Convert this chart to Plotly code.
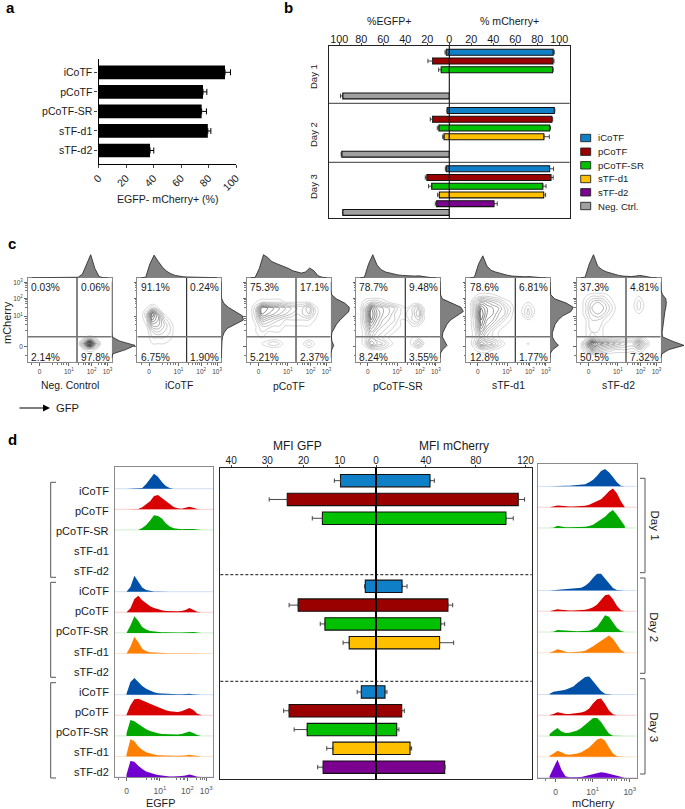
import plotly.graph_objects as go

W, H = 685, 809
FONT = "Liberation Sans"

# ---------- panel a ----------
A_CATS = ["iCoTF", "pCoTF", "pCoTF-SR", "sTF-d1", "sTF-d2"]
A_VALS = [92, 76, 75, 79.5, 37.5]
A_ERRS = [4, 2.8, 3.5, 2.2, 2.7]
A_TICKS = [0, 20, 40, 60, 80, 100]

# ---------- panel b (one value per day; None = not measured) ----------
NAMES = ["iCoTF", "pCoTF", "pCoTF-SR", "sTF-d1", "sTF-d2", "Neg. Ctrl."]
COLORS = ["#0F80C8", "#9B0000", "#00C000", "#FFC000", "#7B0090", "#A0A0A0"]
B_MCH = [[94.5, 95.5, 91.2], [94.2, 93.3, 92.4], [93.9, 91.2, 85.0],
         [None, 86.0, 85.8], [None, None, 40.6], [None, None, None]]
B_MCH_ERR = [[1, 0.5, 3.6], [1, 0.7, 2.1], [0.6, 0.8, 3.0],
             [None, 5.0, 1.8], [None, None, 3.0], [None, None, None]]
B_GFP = [[2.7, 1.8, 2.7], [15.2, 15.2, 20.3], [7.3, 9.4, 16.0],
         [None, 4.8, 9.0], [None, None, 11.5], [96.7, 97.6, 96.7]]
B_GFP_ERR = [[1.2, 0.3, 0.9], [4.2, 2.1, 1.5], [2.4, 1.5, 2.8],
             [None, 1.2, 1.6], [None, None, 1.2], [2.1, 0.6, 0.3]]
B_TICKS = [0, 20, 40, 60, 80, 100]

# ---------- panel d centre (five constructs per day) ----------
D_GFP = [[9.8, 2.95, 4.05], [24.5, 21.5, 24.0], [14.8, 14.1, 19.0],
         [None, 7.4, 11.9], [None, None, 14.6]]
D_GFP_ERR = [[1.7, 0.2, 1.15], [5.0, 2.5, 1.5], [2.8, 1.3, 3.6],
             [None, 1.7, 1.7], [None, None, 1.5]]
D_MCH = [[43.3, 20.9, 7.2], [114.1, 57.7, 20.6], [104.2, 51.9, 16.6],
         [None, 51.0, 27.3], [None, None, 55.1]]
D_MCH_ERR = [[3.5, 4.0, 1.6], [5.1, 3.8, 2.1], [5.9, 3.2, 1.8],
             [None, 11.3, 1.3], [None, None, 0.3]]
D_GFP_TICKS = [40, 30, 20, 10, 0]
D_MCH_TICKS = [40, 80, 120]

# ---------- panel c ----------
C_LABELS = ["Neg. Control", "iCoTF", "pCoTF", "pCoTF-SR", "sTF-d1", "sTF-d2"]
C_PCT = [["0.03%", "0.06%", "2.14%", "97.8%"],
         ["91.1%", "0.24%", "6.75%", "1.90%"],
         ["75.3%", "17.1%", "5.21%", "2.37%"],
         ["78.7%", "9.48%", "8.24%", "3.55%"],
         ["78.6%", "6.81%", "12.8%", "1.77%"],
         ["37.3%", "4.81%", "50.5%", "7.32%"]]
C_XGRID = [.04, .11, .18, .25, .32, .39, .46, .53, .60, .67, .74, .81, .88, .95]
C_YGRID = [.85, .78, .71, .64, .57, .50, .43, .36, .29, .22, .15, .08]
Z_NEG = [[0] * 14, [0] * 14, [0] * 14, [0] * 14, [0] * 14, [0] * 14, [0] * 14, [0] * 14,
         [0, 0, 0, 0, 0, 0, 0, 0, 0, 1, 1.5, 1, 0, 0],
         [0, 0, 0, 0, 0, 0, 0, 0, 0, 7, 15, 6, 0, 0],
         [0, 0, 0, 0, 0, 0, 0, 0, 0, 1, 1.5, 1, 0, 0],
         [0] * 14]
Z_ICO = [[0] * 14, [0] * 14, [0] * 14,
         [0, 1, 3, 1, 0, 0, 0, 0, 0, 0, 0, 0, 0, 0],
         [0, 3, 11, 6, 1, 0, 0, 0, 0, 0, 0, 0, 0, 0],
         [0, 2, 9, 7, 3, 1, 0, 0, 0, 0, 0, 0, 0, 0],
         [0, 1, 6, 6, 4, 2, 0, 0, 0, 0, 0, 0, 0, 0],
         [0, 0, 3, 4, 3, 2, 0, 0, 0, 0, 0, 0, 0, 0],
         [0, 0, 2, 2, 2, 1.5, 0, 0, 0, 0, 0, 0, 0, 0],
         [0, 0, 1, 1, 1, 0, 0, 0, 0, 0, 0, 0, 0, 0],
         [0] * 14, [0] * 14]
Z_PCO = [[0] * 14, [0] * 14,
         [0, 1, 2, 2, 2, 2, 1, 1, 1, 1, 1, 0, 0, 0],
         [0, 3, 10, 9, 8, 7, 6, 5, 4, 4, 6, 2, 0, 0],
         [0, 3, 9, 8, 7, 6, 5, 4, 3, 4, 5, 2, 0, 0],
         [0, 2, 6, 5, 4, 3, 2, 2, 2, 2, 2, 1, 0, 0],
         [0, 1, 3, 3, 2, 2, 1, 1, 1, 1, 1, 0, 0, 0],
         [0, 1, 2, 1, 1, 1, 0, 0, 0, 0, 0, 0, 0, 0],
         [0, 0, 1, 0, 0, 0, 0, 0, 0, 0, 0, 0, 0, 0],
         [0, 0, 1, 2, 3, 2, 0, 0, 0, 0.9, 3, 0.9, 0, 0],
         [0] * 14, [0] * 14]
Z_SR = [[0] * 14, [0] * 14,
        [0, 2, 3, 3, 2, 1, 0, 0, 0, 0, 0, 0, 0, 0],
        [0, 4, 10, 7, 6, 5, 4, 2, 1, 3, 5, 1, 0, 0],
        [0, 4, 11, 8, 6, 5, 3, 2, 2, 3, 6, 1, 0, 0],
        [0, 4, 10, 7, 5, 4, 3, 1, 1, 3, 4, 1, 0, 0],
        [0, 3, 8, 6, 4, 3, 2, 1, 0, 1, 1, 0, 0, 0],
        [0, 2, 6, 4, 3, 2, 1, 0, 0, 0, 0, 0, 0, 0],
        [0, 2, 5, 3, 2, 1, 0, 0, 0, 1, 1, 0, 0, 0],
        [0, 2, 7, 5, 4, 2, 0.5, 0, 0, 1.5, 5, 1, 0, 0],
        [0, 0, 1, 1, 1, 0, 0, 0, 0, 0, 0, 0, 0, 0],
        [0] * 14]
Z_D1 = [[0] * 14,
        [0, 1, 2, 2, 1.5, 1, 0, 0, 0, 0, 0, 0, 0, 0],
        [0, 4, 7, 6, 5, 4, 2, 1, 0, 0, 1, 1, 0, 0],
        [0, 4, 10, 8, 7, 6, 4, 2, 0, 1, 3, 1, 0, 0],
        [0, 4, 11, 8, 7, 5, 4, 1.5, 0, 1, 3.5, 1, 0, 0],
        [0, 3, 10, 7, 6, 4, 2, 1, 0, 0, 0.9, 0.5, 0, 0],
        [0, 3, 9, 6, 4, 2, 1, 0, 0, 0, 0, 0, 0, 0],
        [0, 2, 7, 4, 2, 1, 0, 0, 0, 0, 0, 0, 0, 0],
        [0, 2, 5, 3, 2, 1, 0, 0, 0, 0, 0, 0, 0, 0],
        [0, 3, 8, 6, 5, 3, 1, 0, 0, 0, 1.2, 0, 0, 0],
        [0, 1, 2, 2, 1, 0.5, 0, 0, 0, 0, 0, 0, 0, 0],
        [0] * 14]
Z_D2 = [[0] * 14,
        [0, 1, 2, 2, 2, 1, 0, 0, 0, 0, 1, 0, 0, 0],
        [0, 2, 4, 5, 4, 2, 0.5, 0, 0, 0.5, 2.5, 0.5, 0, 0],
        [0, 2, 5, 6, 5, 3, 1, 0, 0, 0.5, 2.5, 0.5, 0, 0],
        [0, 2, 4, 5, 4, 2, 0.5, 0, 0, 0, 0.9, 0, 0, 0],
        [0, 1, 3, 3, 2, 1, 0, 0, 0, 0, 0, 0, 0, 0],
        [0, 1, 3, 3, 1, 0, 0, 0, 0, 0, 0, 0, 0, 0],
        [0, 1, 2, 2, 0.9, 0, 0, 0, 0, 0, 0, 0, 0, 0],
        [0, 1, 3, 2, 1, 1, 0.5, 0.5, 0.5, 0.5, 1, 0.9, 0, 0],
        [0, 5, 12, 9, 8, 7, 6, 5, 4, 4, 8, 4, 0, 0],
        [0, 3, 7, 5, 4, 3, 2, 2, 2, 1.5, 3, 1, 0, 0],
        [0] * 14]
C_Z = [Z_NEG, Z_ICO, Z_PCO, Z_SR, Z_D1, Z_D2]

# marginal histograms of panel c
C_BINS = [.05, .1, .15, .2, .25, .3, .35, .4, .45, .5, .55, .6, .65, .7, .75, .8, .85, .9, .95]
TOP_NEG = [0, 0, 0, 0, 0, 0, 0, 0, 0, 0, 0, .02, .15, .55, 1, .4, .05, 0, 0]
TOP_ICO = [0, .02, .6, .98, .7, .45, .28, .17, .1, .06, .04, .03, .03, .03, .02, .01, 0, 0, 0]
TOP_PCO = [0, .01, .4, 1, .88, .7, .62, .55, .45, .4, .3, .25, .2, .25, .42, .3, .08, .02, 0]
TOP_SR = [0, .02, .6, 1, .55, .35, .25, .2, .15, .12, .1, .08, .08, .07, .08, .05, .01, 0, 0]
TOP_D1 = [0, .02, .6, .95, .5, .32, .25, .2, .13, .1, .07, .05, .04, .04, .05, .03, 0, 0, 0]
TOP_D2 = [0, .02, .6, 1, .5, .35, .26, .2, .14, .1, .07, .05, .05, .07, .1, .07, .02, 0, 0]
C_TOP = [TOP_NEG, TOP_ICO, TOP_PCO, TOP_SR, TOP_D1, TOP_D2]
RIGHT_NEG = [0, .05, .6, 1, .35, .02, 0, 0, 0, 0, 0, 0, 0, 0, 0, 0, 0, 0, 0]
RIGHT_ICO = [0, 0, .01, .02, .03, .05, .12, .25, .6, .95, .9, .6, .3, .1, .02, 0, 0, 0, 0]
RIGHT_PCO = [0, 0, .05, .13, .05, .03, .05, .15, .25, .4, .58, .78, .8, .6, .24, .04, 0, 0, 0]
RIGHT_SR = [0, 0, .12, .3, .2, .1, .12, .2, .3, .45, .7, 1, .9, .5, .1, .02, 0, 0, 0]
RIGHT_D1 = [0, 0, .12, .36, .2, .1, .1, .15, .22, .35, .55, .9, 1, .7, .2, .03, 0, 0, 0]
RIGHT_D2 = [0, .05, .35, 1, .5, .08, .06, .08, .1, .12, .14, .18, .22, .24, .22, .08, .01, 0, 0]
C_RIGHT = [RIGHT_NEG, RIGHT_ICO, RIGHT_PCO, RIGHT_SR, RIGHT_D1, RIGHT_D2]

# ---------- panel d ridgelines (counts on a shared bin grid) ----------
R_BINS = [.12, .16, .20, .24, .28, .32, .36, .40, .44, .48, .52, .56, .60, .64, .68, .72, .76, .80, .84, .88]
RIDGE_COLORS = ["#0050A8", "#D80000", "#00A800", "#FF8000", "#7000D0"]
RIDGE_TINTS = ["#CFE0F5", "#FAD0D0", "#CDF0CD", "#FFE3CC", "#E3D0F8"]
GFP_1_0 = [0, 0, 0, 0, 2, 14, 30, 45, 36, 20, 8, 2, 0, 0, 0, 0, 1, 0, 0, 0]
GFP_1_1 = [0, 0, 0, 1, 6, 14, 24, 40, 43, 34, 24, 15, 7, 3, 2, 5, 8, 5, 1, 0]
GFP_1_2 = [0, 0, 0, 0, 6, 15, 28, 44, 42, 34, 20, 10, 5, 3, 2, 3, 4, 3, 1, 0]
GFP_2_0 = [0, 14, 48, 30, 13, 5, 2, 1, 1, 0, 0, 0, 0, 0, 0, 0, 1, 0, 0, 0]
GFP_2_1 = [0, 12, 40, 50, 36, 26, 18, 13, 9, 6, 4, 3, 3, 3, 4, 7, 13, 8, 2, 0]
GFP_2_2 = [0, 22, 50, 36, 18, 10, 6, 4, 3, 2, 2, 1, 1, 1, 1, 2, 4, 3, 1, 0]
GFP_2_3 = [0, 20, 50, 34, 14, 7, 4, 3, 2, 1, 1, 1, 1, 1, 1, 2, 3, 2, 1, 0]
GFP_3_0 = [3, 38, 50, 38, 26, 18, 12, 7, 4, 3, 2, 1, 1, 1, 1, 2, 3, 1, 0, 0]
GFP_3_1 = [2, 30, 48, 50, 44, 40, 35, 30, 24, 19, 15, 12, 10, 10, 12, 17, 22, 16, 5, 1]
GFP_3_2 = [8, 48, 44, 36, 27, 20, 15, 11, 8, 6, 5, 4, 4, 4, 6, 10, 13, 9, 3, 0]
GFP_3_3 = [6, 52, 46, 30, 20, 13, 9, 6, 4, 3, 2, 2, 2, 2, 2, 3, 5, 3, 1, 0]
GFP_3_4 = [8, 48, 46, 34, 24, 17, 12, 9, 6, 4, 3, 2, 2, 2, 3, 5, 8, 5, 1, 0]
MCH_1_0 = [0, 1, 2, 2, 2, 2, 3, 3, 4, 6, 12, 20, 32, 46, 52, 42, 28, 12, 2, 0]
MCH_1_1 = [0, 2, 5, 4, 2, 2, 2, 2, 3, 4, 7, 12, 18, 24, 35, 48, 56, 42, 18, 3]
MCH_1_2 = [0, 1, 7, 4, 2, 2, 2, 2, 3, 4, 6, 10, 18, 26, 34, 46, 54, 40, 24, 6]
MCH_2_0 = [0, 1, 2, 2, 3, 3, 4, 5, 8, 14, 24, 38, 50, 50, 36, 20, 7, 1, 0, 0]
MCH_2_1 = [0, 2, 6, 4, 2, 2, 2, 2, 3, 4, 7, 12, 20, 34, 48, 50, 36, 16, 3, 0]
MCH_2_2 = [0, 1, 6, 5, 3, 2, 2, 2, 3, 3, 4, 8, 16, 32, 50, 46, 30, 12, 3, 0]
MCH_2_3 = [1, 5, 11, 8, 3, 2, 2, 3, 4, 6, 12, 20, 28, 36, 46, 52, 42, 24, 8, 1]
MCH_3_0 = [2, 8, 11, 12, 14, 18, 24, 34, 44, 52, 54, 40, 26, 10, 2, 0, 0, 0, 0, 0]
MCH_3_1 = [1, 4, 9, 7, 4, 4, 5, 6, 8, 12, 20, 36, 48, 50, 34, 14, 3, 0, 0, 0]
MCH_3_2 = [6, 16, 24, 14, 9, 10, 13, 17, 24, 34, 46, 54, 54, 42, 24, 8, 1, 0, 0, 0]
MCH_3_3 = [3, 10, 18, 14, 8, 6, 7, 10, 14, 20, 28, 40, 52, 56, 48, 28, 10, 2, 0, 0]
MCH_3_4 = [4, 30, 54, 24, 4, 1, 1, 1, 2, 5, 8, 11, 14, 16, 15, 12, 8, 4, 2, 0]
# (row among the 15 lanes, colour index, counts)
GFP_RIDGES = [(0, 0, GFP_1_0), (1, 1, GFP_1_1), (2, 2, GFP_1_2),
              (5, 0, GFP_2_0), (6, 1, GFP_2_1), (7, 2, GFP_2_2), (8, 3, GFP_2_3),
              (10, 0, GFP_3_0), (11, 1, GFP_3_1), (12, 2, GFP_3_2), (13, 3, GFP_3_3), (14, 4, GFP_3_4)]
MCH_RIDGES = [(0, 0, MCH_1_0), (1, 1, MCH_1_1), (2, 2, MCH_1_2),
              (5, 0, MCH_2_0), (6, 1, MCH_2_1), (7, 2, MCH_2_2), (8, 3, MCH_2_3),
              (10, 0, MCH_3_0), (11, 1, MCH_3_1), (12, 2, MCH_3_2), (13, 3, MCH_3_3), (14, 4, MCH_3_4)]
LANE_LABELS = ["iCoTF", "pCoTF", "pCoTF-SR", "sTF-d1", "sTF-d2"] * 3

# ---------- layout helpers ----------
fig = go.Figure()
layout = {}
annotations = []
shapes = []
n_axes = 0


def dom_x(l, r):
    return [l / W, min(r, W) / W]


def dom_y(t, b):
    return [1 - b / H, 1 - t / H]


def new_axes(xd, yd, xkw, ykw):
    global n_axes
    n_axes += 1
    s = "" if n_axes == 1 else str(n_axes)
    base = dict(showgrid=False, zeroline=False)
    layout["xaxis" + s] = {**base, "domain": dom_x(*xd), "anchor": "y" + s, **xkw}
    layout["yaxis" + s] = {**base, "domain": dom_y(*yd), "anchor": "x" + s, **ykw}
    return "x" + s, "y" + s


def txt(x, y, text, size=10.5, angle=0, anchor="center", color="#1a1a1a", bold=False):
    annotations.append(dict(x=x / W, y=1 - y / H, xref="paper", yref="paper", text=("<b>%s</b>" % text) if bold else text,
                            showarrow=False, xanchor=anchor, yanchor="middle", textangle=angle,
                            font=dict(family=FONT, size=size, color=color)))


def px_line(x0, y0, x1, y1, color="#000", width=1, dash="solid"):
    shapes.append(dict(type="line", xref="paper", yref="paper", x0=x0 / W, x1=x1 / W, y0=1 - y0 / H, y1=1 - y1 / H,
                       line=dict(color=color, width=width, dash=dash), layer="above"))


def bracket(xv, xtab, t, b):
    pts = [(xtab, t), (xv, t), (xv, b), (xtab, b)]
    path = "M" + " L".join("%.5f,%.5f" % (x / W, 1 - y / H) for x, y in pts)
    shapes.append(dict(type="path", xref="paper", yref="paper", path=path, line=dict(color="#555", width=1)))


# ---------- panel a ----------
xa, ya = new_axes((98.5, 236), (59, 164),
                  dict(range=[0, 100], tickvals=A_TICKS, tickangle=-45, ticks="outside", ticklen=3, showline=True,
                       linecolor="#000", linewidth=1.2, tickwidth=1, tickfont=dict(size=10.5)),
                  dict(type="category", categoryorder="array", categoryarray=A_CATS, range=[4.69, -0.68], ticks="outside",
                       ticklen=3, showline=True, linecolor="#000", linewidth=1.2, tickwidth=1, tickfont=dict(size=10.5)))
fig.add_bar(x=A_VALS, y=A_CATS, orientation="h", width=0.7, marker=dict(color="#000", line=dict(width=0)),
            error_x=dict(type="data", array=A_ERRS, symmetric=False, arrayminus=[0] * 5, color="#000", thickness=1, width=3),
            xaxis=xa, yaxis=ya, showlegend=False)
txt(167.7, 198.7, "EGFP- mCherry+ (%)", 10.6)
txt(10, 7, "a", 15, bold=True, color="#000")


# ---------- panels b and d centre: two mirrored halves ----------
def butterfly(left_x, mid_x, right_x, top, bottom, left_rng, right_rng, y_rng, pos_fn, names, colors, left_vals, left_errs,
              right_vals, right_errs, left_ticks, right_ticks, bar_w, tick_size, line_w, standoff):
    axis_x = dict(side="top", ticks="outside", ticklen=2, tickwidth=1, showline=True, mirror=True, linecolor="#222",
                  linewidth=line_w, tickfont=dict(size=tick_size), ticklabelstandoff=standoff)
    xl, yl = new_axes((left_x, mid_x), (top, bottom), dict(range=left_rng, tickvals=left_ticks, **axis_x),
                      dict(range=y_rng, showticklabels=False, ticks="", showline=True, linecolor="#222", linewidth=line_w))
    xr, yr = new_axes((mid_x, right_x), (top, bottom), dict(range=right_rng, tickvals=right_ticks, **axis_x),
                      dict(range=y_rng, side="right", showticklabels=False, ticks="", showline=True, linecolor="#222",
                           linewidth=line_w))
    err = dict(type="data", symmetric=False, color="#333", thickness=0.9, width=2.2)
    for c, name in enumerate(names):
        ys = [pos_fn(d, c) for d in range(3)]
        fig.add_bar(x=left_vals[c], y=ys, orientation="h", width=bar_w, name=name, showlegend=False,
                    marker=dict(color=colors[c], line=dict(color="#111", width=1.1)),
                    error_x=dict(array=left_errs[c], arrayminus=[0, 0, 0], **err), xaxis=xl, yaxis=yl)
        fig.add_bar(x=right_vals[c], y=ys, orientation="h", width=bar_w, name=name, showlegend=False,
                    marker=dict(color=colors[c], line=dict(color="#111", width=1.1)),
                    error_x=dict(array=right_errs[c], arrayminus=[0, 0, 0], **err), xaxis=xr, yaxis=yr)


# panel b
butterfly(328.7, 449.3, 569.7, 46, 218, [109.5, 0], [0, 109.5], [18.98, -0.72], lambda d, c: d * 6.67 + c, NAMES, COLORS,
          B_GFP, B_GFP_ERR, B_MCH, B_MCH_ERR, B_TICKS, B_TICKS[1:], 0.68, 10.8, 1.1, -4)
px_line(449.3, 46, 449.3, 218, "#111", 1.1)
px_line(328.7, 103.3, 569.7, 103.3, "#222", 0.9)
px_line(328.7, 162.3, 569.7, 162.3, "#222", 0.9)
txt(388.7, 21, "%EGFP+", 10.6)
txt(509, 21, "% mCherry+", 10.6)
for label, yy in zip(["Day 1", "Day 2", "Day 3"], [77, 135, 187]):
    txt(313, yy, label, 9.5, angle=-90)
txt(288, 7, "b", 15, bold=True, color="#000")
# panel b key
KEY_Y = [138, 151.7, 165.3, 179, 192.3, 206]
for name, color, yy in zip(NAMES, COLORS, KEY_Y):
    shapes.append(dict(type="rect", xref="paper", yref="paper", x0=580.7 / W, x1=590.7 / W, y0=1 - (yy + 3.7) / H, y1=1 - (yy - 3.7) / H,
                       fillcolor=color, line=dict(color="#222", width=0.9)))
    txt(595.7, yy, name, 9.6, anchor="left")

# panel d centre
butterfly(220.3, 376, 531.7, 467.7, 779, [43, 0], [0, 124.9], [15.87, -0.69], lambda d, c: d * 5.62 + c, NAMES[:5], COLORS[:5],
          D_GFP, D_GFP_ERR, D_MCH, D_MCH_ERR, D_GFP_TICKS, D_MCH_TICKS, 0.66, 10, 1.3, -3)
px_line(376, 467.7, 376, 779, "#000", 2)
px_line(220.3, 574.7, 531.7, 574.7, "#111", 1, "3px,2px")
px_line(220.3, 681.3, 531.7, 681.3, "#111", 1, "3px,2px")
txt(297.7, 445.7, "MFI GFP", 12)
txt(453.7, 445.7, "MFI mCherry", 12)

# ---------- panel c ----------
C_LEFT = [27.7, 137.3, 246.7, 356, 466, 576.7]
C_W = 84
C_TOP_PX, C_BOT_PX = 277.7, 362.3
C_XTICKS = [.14, .49, .76, .95]
C_YTICKS = [.184, .547, .756, .94]
C_TEXT = ["0", "10<sup>1</sup>", "10<sup>2</sup>", "10<sup>3</sup>"]
C_XMINOR = [.05, .3, .36, .4, .43, .46, .61, .66, .69, .72, .74, .84, .88, .91, .93]
C_YMINOR = [.08, .38, .45, .49, .52, .65, .69, .72, .74, .85, .89, .91, .93]
GATE_X, GATE_Y = 0.587, 0.303
C_LABEL_Y = [385.7, 385, 386, 387, 385, 385]
line_scale = [[0, "#C4C4C4"], [0.35, "#A0A0A0"], [0.7, "#606060"], [1, "#282828"]]
for i, left in enumerate(C_LEFT):
    right = left + C_W
    tick = dict(ticks="outside", ticklen=2.5, tickwidth=0.7, tickcolor="#666", showline=True, mirror=True, linecolor="#8A8A8A",
                linewidth=1, tickfont=dict(size=6.5, color="#444"))
    minor = dict(ticks="outside", ticklen=1.5, tickwidth=0.5, tickcolor="#777")
    xc, yc = new_axes((left, right), (C_TOP_PX, C_BOT_PX),
                      dict(range=[0, 1], tickvals=C_XTICKS, ticktext=C_TEXT, minor=dict(tickvals=C_XMINOR, **minor), **tick),
                      dict(range=[0, 1], tickvals=C_YTICKS, ticktext=C_TEXT, showticklabels=(i == 0),
                           minor=dict(tickvals=C_YMINOR, **minor), **tick))
    fig.add_contour(x=C_XGRID, y=C_YGRID, z=C_Z[i], xaxis=xc, yaxis=yc, showscale=False, colorscale=line_scale, zmin=1, zmax=11,
                    contours=dict(coloring="lines", start=1, end=15, size=1), line=dict(width=0.7, smoothing=1.1), hoverinfo="skip")
    shapes.append(dict(type="line", xref=xc, yref=yc, x0=GATE_X, x1=GATE_X, y0=0, y1=1, line=dict(color="#333", width=1.2), layer="above"))
    shapes.append(dict(type="line", xref=xc, yref=yc, x0=0, x1=1, y0=GATE_Y, y1=GATE_Y, line=dict(color="#777", width=1.5), layer="above"))
    hidden = dict(visible=False)
    xt, yt = new_axes((left, right), (254, C_TOP_PX), dict(range=[0, 1], **hidden), dict(range=[0, 1.03], **hidden))
    fig.add_scatter(x=C_BINS, y=C_TOP[i], mode="lines", fill="tozeroy", fillcolor="#808080", line=dict(color="#222", width=0.8),
                    xaxis=xt, yaxis=yt, showlegend=False, hoverinfo="skip")
    xh, yh = new_axes((right, right + 24), (C_TOP_PX, C_BOT_PX), dict(range=[0, 1.03], **hidden), dict(range=[0, 1], **hidden))
    fig.add_scatter(x=C_RIGHT[i], y=C_BINS, mode="lines", fill="tozerox", fillcolor="#808080", line=dict(color="#222", width=0.8),
                    xaxis=xh, yaxis=yh, showlegend=False, hoverinfo="skip")
    for k, s in enumerate(C_PCT[i]):
        txt(left + (18 if k % 2 == 0 else 67.6), 287 if k < 2 else 357, s, 10.2)
    txt(left + 42, C_LABEL_Y[i], C_LABELS[i], 10.4)
txt(7, 323, "mCherry", 11, angle=-90)
txt(12, 243, "c", 15, bold=True, color="#000")
annotations.append(dict(x=50 / W, y=1 - 408 / H, xref="paper", yref="paper", ax=-32, ay=0, text="", showarrow=True, arrowhead=2,
                        arrowsize=1.4, arrowwidth=1, arrowcolor="#000"))
txt(67, 408, "GFP", 11.2)


# ---------- panel d ridgelines ----------
def ridge_panel(xd, yd, y_rng, ridges, ticks, tick_text, minor_ticks, div):
    tick = dict(ticks="outside", ticklen=3, tickwidth=0.8, tickcolor="#666", showline=True, mirror=True, linecolor="#8A8A8A",
                linewidth=1, tickfont=dict(size=8.5, color="#555"), ticklabelstandoff=2)
    xr, yr = new_axes(xd, yd, dict(range=[0, 1], tickvals=ticks, ticktext=tick_text,
                                   minor=dict(tickvals=minor_ticks, ticks="outside", ticklen=2, tickwidth=0.6, tickcolor="#777"), **tick),
                      dict(range=y_rng, showticklabels=False, ticks="", showline=True, mirror=True, linecolor="#8A8A8A", linewidth=1))
    for row, col, counts in ridges:
        fig.add_scatter(x=[0, 1], y=[row, row], mode="lines", line=dict(color=RIDGE_TINTS[col], width=1), xaxis=xr, yaxis=yr,
                        showlegend=False, hoverinfo="skip")
        fig.add_scatter(x=[R_BINS[0]] + R_BINS + [R_BINS[-1]], y=[row] + [row - v / div for v in counts] + [row], mode="lines", fill="toself",
                        fillcolor=RIDGE_COLORS[col], line=dict(width=0), xaxis=xr, yaxis=yr, showlegend=False, hoverinfo="skip")


ridge_panel((114.7, 213), (467.3, 777.3), [14.01, -1.04], GFP_RIDGES, [.122, .46, .74, .93],
            ["0", "10<sup>1</sup>", "10<sup>2</sup>", "10<sup>3</sup>"],
            [.04, .32, .37, .40, .43, .44, .63, .67, .70, .71, .83, .87, .89, .91], 61.8)
ridge_panel((537.7, 636.7), (464.3, 778.3), [14.03, -1.06], MCH_RIDGES, [.18, .555, .93],
            ["0", "10<sup>1</sup>", "10<sup>3</sup>"],
            [.08, .40, .45, .48, .51, .53, .70, .75, .78, .80, .85, .88, .9], 62.4)
for i, label in enumerate(LANE_LABELS):
    txt(111, 490.7 + 20.1 * i, label, 11, anchor="right")
txt(160, 803, "EGFP", 10.8)
txt(593, 803, "mCherry", 11)
txt(12, 439, "d", 15, bold=True, color="#000")
for t, b in [(482.3, 577.3), (582.3, 677.3), (682.7, 778)]:
    bracket(50.7, 56, t, b)
for t, b in [(478.3, 572.7), (578, 673.3), (678.7, 774)]:
    bracket(645, 640, t, b)
for label, yy in zip(["Day 1", "Day 2", "Day 3"], [525, 626.7, 726.7]):
    txt(654.5, yy, label, 11.5, angle=90)

fig.update_layout(width=W, height=H, margin=dict(l=0, r=0, t=0, b=0, pad=0, autoexpand=False), autosize=False, paper_bgcolor="#fff", plot_bgcolor="rgba(0,0,0,0)",
                  barmode="overlay", showlegend=False, font=dict(family=FONT, size=10.5, color="#1a1a1a"), annotations=annotations, shapes=shapes,
                  **layout)
fig.write_html("out.html", post_script="document.body.style.margin='0';document.body.style.overflow='hidden';",
               config=dict(displayModeBar=False))
